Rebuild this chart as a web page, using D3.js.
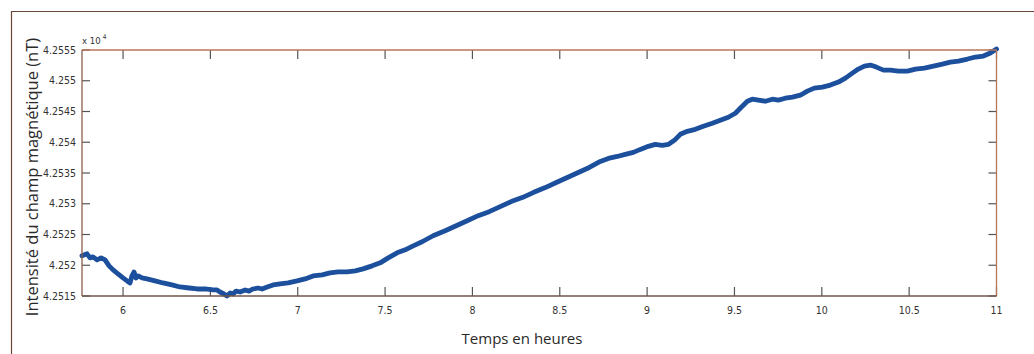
<!DOCTYPE html>
<html><head><meta charset="utf-8">
<script src="https://cdn.jsdelivr.net/npm/d3@7"></script>
<style>
html,body{margin:0;padding:0;background:#fff;}
svg{display:block;}
</style></head>
<body>
<svg id="c" width="1034" height="354"></svg>
<script>
// Time in hours
const timeHours = [5.765,5.794,5.811,5.828,5.851,5.874,5.897,5.92,5.943,5.971,6.0,6.023,6.04,6.051,6.063,6.074,6.086,6.109,6.137,6.183,6.229,6.28,6.326,6.378,6.424,6.47,6.515,6.538,6.555,6.578,6.595,6.613,6.63,6.647,6.67,6.699,6.721,6.744,6.773,6.796,6.825,6.859,6.899,6.945,6.996,7.042,7.088,7.14,7.185,7.231,7.283,7.329,7.374,7.426,7.472,7.518,7.569,7.615,7.661,7.712,7.775,7.844,7.907,7.97,8.033,8.096,8.159,8.222,8.285,8.348,8.417,8.48,8.543,8.606,8.669,8.732,8.778,8.829,8.875,8.921,8.961,9.007,9.047,9.087,9.121,9.156,9.19,9.23,9.276,9.322,9.373,9.419,9.465,9.505,9.539,9.574,9.602,9.637,9.677,9.717,9.751,9.791,9.832,9.877,9.917,9.957,10.003,10.049,10.095,10.135,10.175,10.209,10.244,10.278,10.312,10.353,10.393,10.438,10.49,10.536,10.587,10.639,10.69,10.736,10.782,10.834,10.88,10.925,10.965,11.0];
// Field intensity in nT
const fieldNT = [42521.53,42521.86,42521.2,42521.37,42520.88,42521.2,42520.88,42519.9,42519.24,42518.6,42517.94,42517.45,42517.12,42518.27,42518.9,42517.94,42518.27,42517.94,42517.78,42517.45,42517.12,42516.8,42516.47,42516.3,42516.14,42516.14,42515.98,42515.98,42515.65,42515.33,42515.0,42515.49,42515.33,42515.8,42515.65,42515.98,42515.8,42516.14,42516.3,42516.14,42516.47,42516.8,42516.96,42517.12,42517.45,42517.78,42518.27,42518.43,42518.76,42518.92,42518.92,42519.08,42519.41,42519.9,42520.39,42521.2,42522.02,42522.51,42523.16,42523.82,42524.8,42525.61,42526.43,42527.24,42528.06,42528.71,42529.53,42530.35,42531.0,42531.82,42532.63,42533.45,42534.27,42535.08,42535.9,42536.88,42537.37,42537.69,42538.02,42538.35,42538.84,42539.33,42539.65,42539.49,42539.65,42540.31,42541.29,42541.78,42542.1,42542.59,42543.08,42543.57,42544.06,42544.71,42545.69,42546.67,42547.0,42546.84,42546.67,42547.0,42546.84,42547.16,42547.33,42547.65,42548.31,42548.8,42548.96,42549.29,42549.78,42550.43,42551.24,42551.9,42552.39,42552.55,42552.22,42551.73,42551.73,42551.57,42551.57,42551.9,42552.06,42552.39,42552.71,42553.04,42553.2,42553.53,42553.86,42554.02,42554.51,42555.16];
const xTicks = [6,6.5,7,7.5,8,8.5,9,9.5,10,10.5,11];
const xTickLabels = ["6","6.5","7","7.5","8","8.5","9","9.5","10","10.5","11"];
const yTicks = [42515,42520,42525,42530,42535,42540,42545,42550,42555];
const yTickLabels = ["4.2515","4.252","4.2525","4.253","4.2535","4.254","4.2545","4.255","4.2555"];

const svg = d3.select("#c");
const L=82, T=50, R=996.5, B=296;
const x = d3.scaleLinear().domain([5.765,11]).range([L,R]);
const y = d3.scaleLinear().domain([42515,42555]).range([B,T]);
const font = "'Liberation Sans Narrow','DejaVu Sans Condensed',sans-serif";

// outer frame
svg.append("path").attr("d","M11.5,354 L11.5,11.5 L1034,11.5").attr("fill","none").attr("stroke","#6a4638").attr("stroke-width",1.2);

// ticks (inside, mirrored)
const tg = svg.append("g").attr("stroke","#555").attr("stroke-width",1.2);
xTicks.forEach(t=>{
  tg.append("line").attr("x1",x(t)).attr("x2",x(t)).attr("y1",B).attr("y2",B-9);
  tg.append("line").attr("x1",x(t)).attr("x2",x(t)).attr("y1",T).attr("y2",T+9);
});
yTicks.forEach(v=>{
  tg.append("line").attr("x1",L).attr("x2",L+8).attr("y1",y(v)).attr("y2",y(v));
  tg.append("line").attr("x1",R).attr("x2",R-8).attr("y1",y(v)).attr("y2",y(v));
});

// data line
const data = timeHours.map((t,i)=>({t, v: fieldNT[i]}));
svg.append("path").datum(data)
  .attr("d", d3.line().x(d=>x(d.t)).y(d=>y(d.v)))
  .attr("fill","none").attr("stroke","#1c4f9c").attr("stroke-width",4.8)
  .attr("stroke-linejoin","round").attr("stroke-linecap","round");

// box
svg.append("line").attr("x1",L).attr("x2",R).attr("y1",T).attr("y2",T).attr("stroke","#b8745a").attr("stroke-width",1.3);
svg.append("line").attr("x1",R).attr("x2",R).attr("y1",T).attr("y2",B).attr("stroke","#b8745a").attr("stroke-width",1.3);
svg.append("line").attr("x1",L).attr("x2",R).attr("y1",B).attr("y2",B).attr("stroke","#6e5448").attr("stroke-width",1.3);
svg.append("line").attr("x1",L).attr("x2",L).attr("y1",T).attr("y2",B).attr("stroke","#8a5e4c").attr("stroke-width",1.3);

// tick labels
const lab = svg.append("g").attr("font-family",font).attr("font-size",10.5).attr("fill","#333");
xTicks.forEach((t,i)=>{
  lab.append("text").attr("x",x(t)).attr("y",314).attr("text-anchor","middle").text(xTickLabels[i]);
});
yTicks.forEach((v,i)=>{
  lab.append("text").attr("x",76).attr("y",y(v)+3.5).attr("text-anchor","end").text(yTickLabels[i]);
});
// exponent
const ex = svg.append("text").attr("x",82).attr("y",44).attr("font-family",font).attr("font-size",9.5).attr("fill","#333");
ex.append("tspan").text("x 10");
ex.append("tspan").attr("dx",2).attr("dy",-5).attr("font-size",6.5).text("4");

// axis titles
svg.append("text").attr("x",522).attr("y",344).attr("text-anchor","middle")
  .attr("font-family","'Open Sans',sans-serif").attr("font-size",15).attr("fill","#2a2a2a").text("Temps en heures");
svg.append("text").attr("transform","translate(38,177) rotate(-90)").attr("text-anchor","middle")
  .attr("font-family","'Open Sans',sans-serif").attr("font-size",16.5).attr("fill","#2a2a2a").text("Intensité du champ magnétique (nT)");
</script>
</body></html>
